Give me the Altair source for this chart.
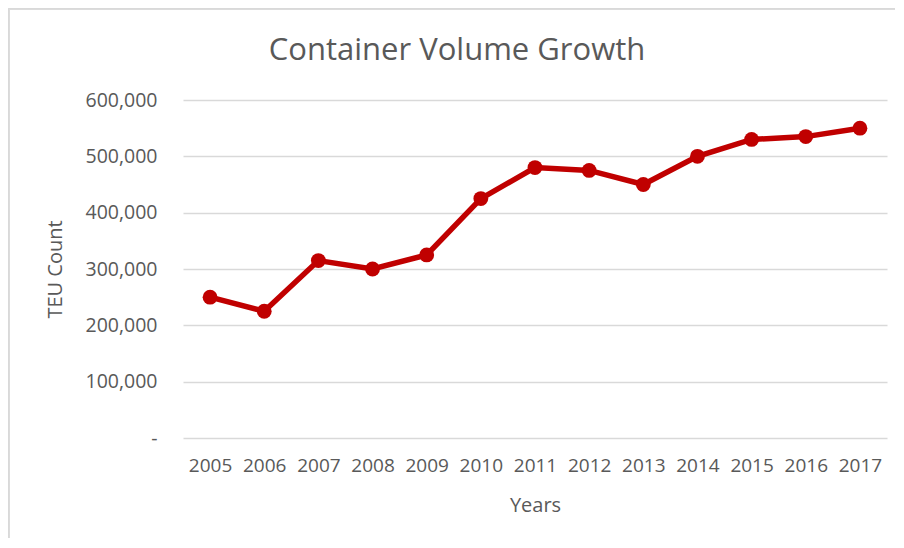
import altair as alt
import pandas as pd

years = ["2005", "2006", "2007", "2008", "2009", "2010", "2011",
         "2012", "2013", "2014", "2015", "2016", "2017"]
teu = [250000, 225000, 315000, 300000, 325000, 425000, 480000,
       475000, 450000, 500000, 530000, 535000, 550000]

df = pd.DataFrame({"Years": years, "TEU": teu})

FONT = "Open Sans"
TXT = "#595959"
GRID = "#d9d9d9"
RED = "#c00000"

W, H = 704, 338

x_enc = alt.X(
    "Years:O",
    sort=years,
    scale=alt.Scale(type="point", padding=0.5),
    axis=alt.Axis(
        title="Years", labelAngle=0, labelFontSize=19, labelColor=TXT,
        labelFont=FONT, labelPadding=18, ticks=False, domain=False,
        titleFont=FONT, titleFontSize=20, titleColor=TXT, titleFontWeight="normal",
        titleY=67, titleBaseline="middle", grid=False,
    ),
)
y_enc = alt.Y(
    "TEU:Q",
    scale=alt.Scale(domain=[0, 600000]),
    axis=alt.Axis(
        title="TEU Count", values=[0, 100000, 200000, 300000, 400000, 500000, 600000],
        labelExpr="datum.value == 0 ? '-' : format(datum.value, ',')",
        labelFontSize=19.5, labelColor=TXT, labelFont=FONT, labelPadding=26,
        ticks=False, domain=False, gridColor=GRID, gridWidth=1.5,
        titleFont=FONT, titleFontSize=20, titleColor=TXT, titleFontWeight="normal",
        titleX=-128, titleY=H / 2, titleAngle=-90, titleAlign="center",
        titleBaseline="middle",
    ),
)

base = alt.Chart(df).encode(x=x_enc, y=y_enc)
line = base.mark_line(color=RED, strokeWidth=5.5)
pts = base.mark_point(filled=True, color=RED, size=220, opacity=1)

border_left = alt.Chart(df).mark_rule(color=GRID, strokeWidth=1.5).encode(
    x=alt.value(-174.5), y=alt.value(-91.5), y2=alt.value(H + 100)
)
border_top = alt.Chart(df).mark_rule(color=GRID, strokeWidth=1.5).encode(
    x=alt.value(-174.5), x2=alt.value(W + 8), y=alt.value(-91.5)
)

chart = (
    alt.layer(line, pts, border_left, border_top)
    .properties(
        width=W,
        height=H,
        autosize=alt.AutoSizeParams(type="none"),
        padding={"left": 175, "top": 92, "right": 8, "bottom": 100},
        view=alt.ViewBackground(stroke="transparent", strokeWidth=0),
        title=alt.TitleParams(
            "Container Volume Growth", font=FONT, fontSize=31, color=TXT,
            fontWeight="normal", anchor="middle", dx=-78, dy=93, offset=34,
        ),
    )
    .configure_view(strokeWidth=0, stroke="transparent")
    .configure_axis(domain=False, ticks=False)
    .configure(background="white")
)

chart.save("out.html", embed_options={"renderer": "svg", "actions": False})
